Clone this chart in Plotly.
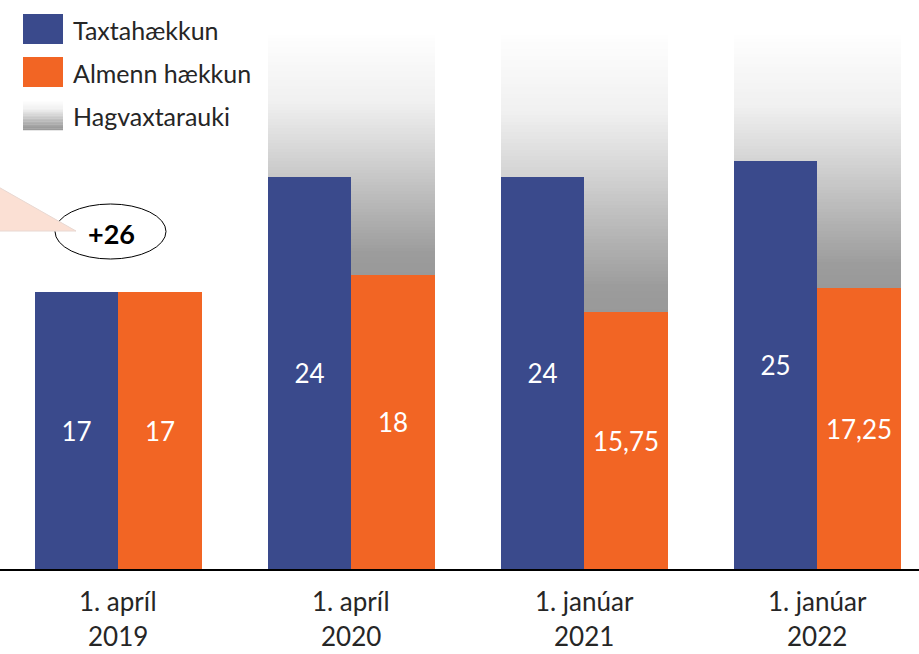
import plotly.graph_objects as go

# ---------------- data ----------------
categories = ["1. apríl 2019", "1. apríl 2020", "1. janúar 2021", "1. janúar 2022"]
tick_line1 = ["1. apríl", "1. apríl", "1. janúar", "1. janúar"]
tick_line2 = ["2019", "2020", "2021", "2022"]
taxtahaekkun = [17, 24, 24, 25]
almenn_haekkun = [17, 18, 15.75, 17.25]
hagvaxtarauki_top = [None, 32.7, 32.7, 32.7]
callout_text = "+26"
legend_names = ["Taxtahækkun", "Almenn hækkun", "Hagvaxtarauki"]

# ---------------- style ----------------
W, H = 919, 654
ML, MR, MT, MB = 0, 0, 0, 85
PW, PH = W - ML - MR, H - MT - MB
BLUE = "#3A4A8C"
ORANGE = "#F26524"
FONT = "Lato"
TXT = "#262626"
BAR_W = 0.3584


def fmt(v):
    return ("%g" % v).replace(".", ",")


def px(x):
    return (x - ML) / PW


def py(y):
    return 1 - (y - MT) / PH


# gradient stops: t=0 top -> t=1 bottom, grey level
stops = [(0.0, 254), (0.28, 240), (0.49, 213), (0.70, 184), (0.91, 156), (1.0, 153)]


def grey_at(t):
    for (t0, g0), (t1, g1) in zip(stops[:-1], stops[1:]):
        if t0 <= t <= t1:
            g = int(round(g0 + (g1 - g0) * (t - t0) / (t1 - t0)))
            return f"rgb({g},{g},{g})"
    return "rgb(153,153,153)"


fig = go.Figure()

# gradient "Hagvaxtarauki" boxes behind the bars, drawn as thin stacked slices
N = 80
gx, gb, gy = [], [], []
for c, top, base in zip(categories, hagvaxtarauki_top, almenn_haekkun):
    if top is None:
        continue
    gx.append(c)
    gb.append(base)
    gy.append(top - base)
for k in range(N):
    t = 1 - (k + 0.5) / N
    fig.add_trace(go.Bar(
        x=gx,
        base=[b + h * k / N for b, h in zip(gb, gy)],
        y=[h / N * 1.02 for h in gy],
        width=2 * BAR_W, offset=-BAR_W,
        marker=dict(color=grey_at(t), line=dict(width=0)),
        showlegend=False, hoverinfo="skip",
    ))

fig.add_trace(go.Bar(
    x=categories, y=taxtahaekkun, name=legend_names[0],
    width=BAR_W, offset=-BAR_W,
    marker=dict(color=BLUE, line=dict(width=0)),
    text=[fmt(v) for v in taxtahaekkun], textposition="inside",
    insidetextanchor="middle", textangle=0,
    textfont=dict(family=FONT, size=26, color="white"),
    showlegend=False,
))
fig.add_trace(go.Bar(
    x=categories, y=almenn_haekkun, name=legend_names[1],
    width=BAR_W, offset=0,
    marker=dict(color=ORANGE, line=dict(width=0)),
    text=[fmt(v) for v in almenn_haekkun], textposition="inside",
    insidetextanchor="middle", textangle=0,
    textfont=dict(family=FONT, size=26, color="white"),
    showlegend=False,
))

shapes = []
annotations = []

# manual legend
leg_rows = [(14, 44, BLUE), (57, 87, ORANGE)]
for y0, y1, col in leg_rows:
    shapes.append(dict(type="rect", xref="paper", yref="paper",
                       x0=px(23), x1=px(63), y0=py(y1), y1=py(y0),
                       fillcolor=col, line=dict(width=0), layer="above"))
gy0, gy1 = 101, 130
NS = 20
for k in range(NS):
    a = gy0 + (gy1 - gy0) * k / NS
    b = gy0 + (gy1 - gy0) * (k + 1) / NS + 0.3
    shapes.append(dict(type="rect", xref="paper", yref="paper",
                       x0=px(23), x1=px(63), y0=py(b), y1=py(a),
                       fillcolor=grey_at((k + 0.5) / NS), line=dict(width=0), layer="above"))
for name, yc in zip(legend_names, [30, 73, 116]):
    annotations.append(dict(text=name, xref="paper", yref="paper",
                            x=px(71), y=py(yc), xanchor="left", yanchor="middle",
                            showarrow=False, font=dict(family=FONT, size=25, color=TXT)))

# category labels (two lines) below the axis
for c, l1, l2 in zip(categories, tick_line1, tick_line2):
    annotations.append(dict(text=l1, xref="x", yref="paper", x=c, y=py(601),
                            xanchor="center", yanchor="middle", showarrow=False,
                            font=dict(family=FONT, size=26, color=TXT)))
    annotations.append(dict(text=l2, xref="x", yref="paper", x=c, y=py(636),
                            xanchor="center", yanchor="middle", showarrow=False,
                            font=dict(family=FONT, size=26, color=TXT)))

# callout ellipse and pointer
shapes.append(dict(type="circle", xref="paper", yref="paper",
                   x0=px(55), x1=px(166), y0=py(259), y1=py(204),
                   fillcolor="white", line=dict(color="black", width=1), layer="above"))
shapes.append(dict(type="path", xref="paper", yref="paper",
                   path=f"M {px(-5)},{py(185)} L {px(76)},{py(231)} L {px(-5)},{py(231)} Z",
                   fillcolor="#FBE0D4", line=dict(color="#E8D8D2", width=1), layer="above"))
annotations.append(dict(text=f"<b>{callout_text}</b>", xref="paper", yref="paper",
                        x=px(111), y=py(233), xanchor="center", yanchor="middle",
                        showarrow=False, font=dict(family=FONT, size=27, color="black")))

fig.update_layout(
    width=W, height=H,
    margin=dict(l=ML, r=MR, t=MT, b=MB),
    paper_bgcolor="white", plot_bgcolor="white",
    barmode="overlay",
    bargap=0,
    showlegend=False,
    shapes=shapes,
    annotations=annotations,
    xaxis=dict(type="category", categoryorder="array", categoryarray=categories,
               range=[-0.5086, 3.436], showgrid=False,
               showline=True, linecolor="black", linewidth=2, ticks="",
               showticklabels=False, zeroline=False, fixedrange=True),
    yaxis=dict(range=[0, 34.87], visible=False, showgrid=False, zeroline=False),
)

fig.write_html("out.html", config={"displayModeBar": False},
               post_script="document.body.style.margin='0px';")
